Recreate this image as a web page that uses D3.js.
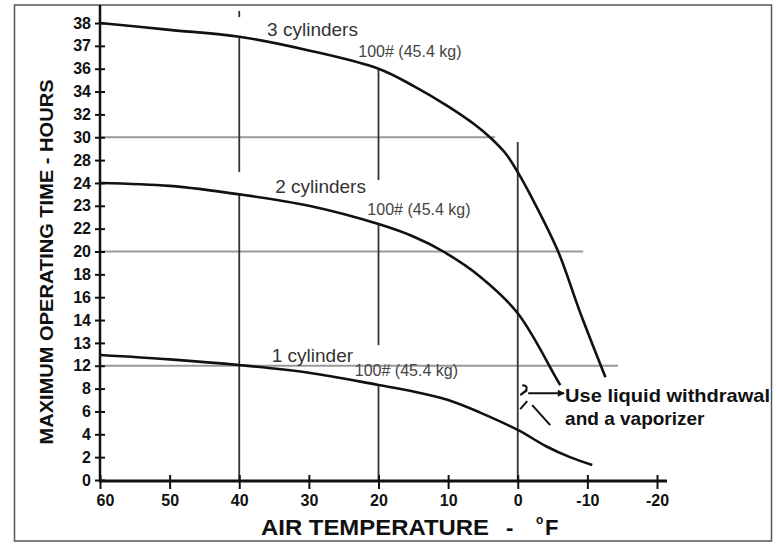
<!DOCTYPE html>
<html>
<head>
<meta charset="utf-8">
<script src="https://cdn.jsdelivr.net/npm/d3@7"></script>
<style>
  body { margin: 0; background: #fff; }
  svg text { font-family: "Liberation Sans", Arial, Helvetica, sans-serif; }
</style>
</head>
<body>
<script>
// axis ticks (the hours axis is not linear on the original chart)
const yTicks = [0, 2, 4, 6, 8, 12, 13, 14, 16, 18, 20, 22, 23, 24, 28, 30, 32, 34, 36, 37, 38];
const xTicks = [60, 50, 40, 30, 20, 10, 0, -10, -20];

// curves
const temps3 = [60, 50, 40, 30, 20, 15, 10, 6.1, 4, 1.8, 0, -2.2, -5.8, -9, -12.6];
const hours3 = [38, 37.7, 37.4, 36.8, 36.0, 34.5, 32.7, 31.07, 30.0, 28.62, 25.9, 23.25, 20.0, 14.6, 10.0];
const temps2 = [60, 50, 40, 30, 20, 15, 10.7, 5.4, 0, -5.4, -6.1];
const hours2 = [24, 23.87, 23.5, 23.0, 22.2, 21.31, 20.0, 17.8, 14.6, 10.1, 8.6];
const temps1 = [60, 50, 40, 30, 20, 15, 10, 5.4, 0, -4.2, -7.5, -10.7];
const hours1 = [12.47, 12.28, 12.03, 10.78, 8.63, 7.75, 7.0, 5.9, 4.38, 2.91, 2.0, 1.31];

// reference lines
const hLineHours = [30, 20, 12];
const hLineEnd = [3.25, -9.4, -14.4];
const vLineTemps = [40, 20, 0];
const vLineSegs = [
    [[38.53, 38.26], [37.4, 25.9], [23.5, 0]],
    [[36.0, 24.5], [22.2, 12.9], [8.63, 0]],
    [[29.58, 0]]
];

// curve labels
const cylLabels = ["3 cylinders", "2 cylinders", "1 cylinder"];
const cylLabelTemp = [36.0, 21.8, 23.65];
const cylLabelHours = [37.43, 23.56, 12.16];
const weightLabel = "100# (45.4 kg)";
const weightTemp = [22.9, 21.6, 23.4];
const weightHours = [36.51, 22.6, 10.2];

const width = 776, height = 546;

const svg = d3.select("body").append("svg")
    .attr("width", width)
    .attr("height", height);

const x = d3.scaleLinear().domain([60, -20]).range([100, 657]);
const yPoint = d3.scalePoint().domain(yTicks).range([480, 23]);
const y = d3.scaleLinear().domain(yTicks).range(yTicks.map(d => yPoint(d)));

// frame
svg.append("rect")
    .attr("x", 14.5).attr("y", 5).attr("width", 757).attr("height", 536)
    .attr("fill", "none").attr("stroke", "#555").attr("stroke-width", 1.5);

// horizontal grey lines
svg.append("g").selectAll("line")
    .data(hLineHours)
    .join("line")
    .attr("x1", x(60)).attr("x2", (d, i) => x(hLineEnd[i]))
    .attr("y1", d => y(d)).attr("y2", d => y(d))
    .attr("stroke", "#999").attr("stroke-width", 2);

// vertical reference lines
const vData = [];
vLineTemps.forEach((t, i) => vLineSegs[i].forEach(s => vData.push({ t: t, a: s[0], b: s[1] })));
svg.append("g").selectAll("line")
    .data(vData)
    .join("line")
    .attr("x1", d => x(d.t)).attr("x2", d => x(d.t))
    .attr("y1", d => y(d.a)).attr("y2", d => y(d.b))
    .attr("stroke", "#333").attr("stroke-width", 1.8);

// curves
const line = d3.line()
    .x(d => x(d[0]))
    .y(d => y(d[1]))
    .curve(d3.curveCatmullRom.alpha(0.5));

[[temps3, hours3], [temps2, hours2], [temps1, hours1]].forEach(s => {
    svg.append("path")
        .datum(s[0].map((t, i) => [t, s[1][i]]))
        .attr("d", line)
        .attr("fill", "none")
        .attr("stroke", "#111")
        .attr("stroke-width", 2.6);
});

// axes
const yAxis = svg.append("g")
    .attr("transform", `translate(${x(60)},0)`)
    .call(d3.axisLeft(y).tickValues(yTicks).tickSize(0).tickPadding(9));
yAxis.select(".domain").remove();
yAxis.selectAll(".tick line").attr("x1", -5).attr("x2", 5).attr("stroke", "#111").attr("stroke-width", 2);
yAxis.selectAll(".tick text")
    .attr("font-family", "Liberation Sans, Arial, sans-serif")
    .attr("font-size", 16).attr("font-weight", "bold").attr("fill", "#111");

const xAxis = svg.append("g")
    .attr("transform", `translate(0,${y(0) + 1})`)
    .call(d3.axisBottom(x).tickValues(xTicks).tickFormat(d => String(d)).tickSize(0).tickPadding(14));
xAxis.select(".domain").remove();
xAxis.selectAll(".tick line").attr("y1", -6).attr("y2", 8).attr("stroke", "#111").attr("stroke-width", 2);
xAxis.selectAll(".tick text")
    .attr("font-family", "Liberation Sans, Arial, sans-serif")
    .attr("font-size", 16).attr("font-weight", "bold").attr("fill", "#111")
    .attr("dx", d => d === 60 ? 5 : 0);

svg.append("line")
    .attr("x1", x(60)).attr("x2", x(60))
    .attr("y1", 5).attr("y2", y(0) + 2)
    .attr("stroke", "#111").attr("stroke-width", 2.5);
svg.append("line")
    .attr("x1", x(60) - 1).attr("x2", x(-20) + 10)
    .attr("y1", y(0) + 1).attr("y2", y(0) + 1)
    .attr("stroke", "#111").attr("stroke-width", 3);

// axis titles
svg.append("text")
    .attr("transform", `translate(53,262) rotate(-90)`)
    .attr("text-anchor", "middle")
    .attr("font-size", 18).attr("font-weight", "bold").attr("fill", "#111")
    .attr("textLength", 365).attr("lengthAdjust", "spacingAndGlyphs")
    .text("MAXIMUM OPERATING TIME - HOURS");

const xt = svg.append("text")
    .attr("y", 535)
    .attr("font-size", 22).attr("font-weight", "bold").attr("fill", "#111");
xt.append("tspan").attr("x", 261).attr("textLength", 228).attr("lengthAdjust", "spacingAndGlyphs").text("AIR TEMPERATURE");
xt.append("tspan").attr("x", 506).text("-");
xt.append("tspan").attr("x", 536).attr("dy", -11).attr("font-size", 12).text("o");
xt.append("tspan").attr("x", 545).attr("dy", 11).text("F");

// curve labels
svg.append("g").selectAll("text")
    .data(cylLabels)
    .join("text")
    .attr("x", (d, i) => x(cylLabelTemp[i]))
    .attr("y", (d, i) => y(cylLabelHours[i]))
    .attr("text-anchor", (d, i) => i === 0 ? "start" : "end")
    .attr("font-size", 19).attr("fill", "#333")
    .text(d => d);

svg.append("g").selectAll("text")
    .data(weightTemp)
    .join("text")
    .attr("x", d => x(d))
    .attr("y", (d, i) => y(weightHours[i]))
    .attr("font-size", 16).attr("fill", "#444")
    .text(weightLabel);

// note with arrow
const noteT = -6.8, noteH = 6.83, arrowT = -1.5, arrowH = 7.6;
svg.append("defs").append("marker")
    .attr("id", "head")
    .attr("viewBox", "0 0 10 10").attr("refX", 9).attr("refY", 5)
    .attr("markerWidth", 10).attr("markerHeight", 7).attr("markerUnits", "userSpaceOnUse")
    .attr("orient", "auto")
    .append("path").attr("d", "M0,0L10,5L0,10Z").attr("fill", "#111");

svg.append("line")
    .attr("x1", x(arrowT)).attr("x2", x(noteT) - 1)
    .attr("y1", y(arrowH)).attr("y2", y(arrowH))
    .attr("stroke", "#111").attr("stroke-width", 2)
    .attr("marker-end", "url(#head)");

const ax = x(arrowT), ay = y(arrowH);
svg.append("path")
    .attr("d", `M${ax - 6},${ay - 8} C${ax},${ay - 8} ${ax},${ay - 3} ${ax - 6},${ay}
                M${ax - 8},${ay + 2} L${ax - 1},${ay - 3}
                M${ax - 8},${ay + 16} L${ax - 1},${ay + 8}
                M${ax + 4},${ay + 12} L${ax + 22},${ay + 32}`)
    .attr("fill", "none").attr("stroke", "#111").attr("stroke-width", 2);

const note = svg.append("text")
    .attr("x", x(noteT)).attr("y", y(noteH))
    .attr("font-size", 19).attr("font-weight", "bold").attr("fill", "#111");
note.append("tspan").attr("x", x(noteT)).attr("textLength", 205).attr("lengthAdjust", "spacingAndGlyphs").text("Use liquid withdrawal");
note.append("tspan").attr("x", x(noteT)).attr("dy", 23).text("and a vaporizer");
</script>
</body>
</html>
